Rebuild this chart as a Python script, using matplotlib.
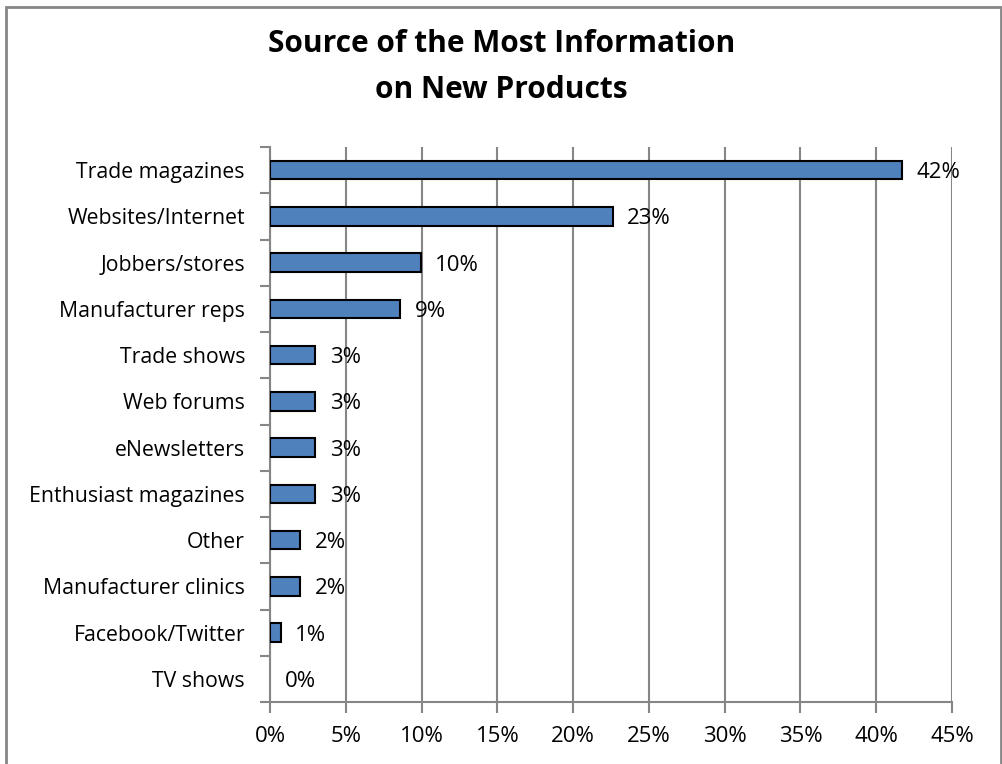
import matplotlib
matplotlib.use("Agg")
import matplotlib.pyplot as plt
from matplotlib.patches import Rectangle
from matplotlib.ticker import MultipleLocator, FuncFormatter, FixedLocator

categories = ["Trade magazines", "Websites/Internet", "Jobbers/stores",
              "Manufacturer reps", "Trade shows", "Web forums", "eNewsletters",
              "Enthusiast magazines", "Other", "Manufacturer clinics",
              "Facebook/Twitter", "TV shows"]
values = [41.7, 22.6, 9.95, 8.6, 3.0, 3.0, 3.0, 3.0, 2.0, 2.0, 0.7, 0.0]

plt.rcParams['font.family'] = ['Open Sans', 'DejaVu Sans']
fs_cat = 15.3
fs_num = 16

fig = plt.figure(figsize=(10.03, 7.64), dpi=100)
ax = fig.add_axes([270 / 1003, 1 - 702 / 764, (952 - 270) / 1003, (702 - 147) / 764])

grid_col = "#868686"
n = len(categories)
ypos = list(range(n - 1, -1, -1))

edges = ["black" if v > 0 else "none" for v in values]
ax.barh(ypos, values, height=0.4, color="#4F81BD", edgecolor=edges,
        linewidth=1.5, zorder=3)
for y, v in zip(ypos, values):
    ax.annotate(f"{v:.0f}%", (v, y), xytext=(10.5, 0), textcoords="offset points",
                va="center_baseline", ha="left", fontsize=fs_num, zorder=4)

ax.set_xlim(0, 45)
ax.set_ylim(-0.5, n - 0.5)
ax.xaxis.set_major_locator(MultipleLocator(5))
ax.xaxis.set_major_formatter(FuncFormatter(lambda x, p: f"{x:.0f}%"))
ax.grid(axis="x", color=grid_col, linewidth=1.5, zorder=0)

ax.set_yticks(ypos)
ax.set_yticklabels(categories)
ax.yaxis.set_minor_locator(FixedLocator([i - 0.5 for i in range(n + 1)]))
ax.tick_params(axis="y", which="major", length=0, pad=18, labelsize=fs_cat)
ax.tick_params(axis="y", which="minor", length=7, width=1.5, color=grid_col)
ax.tick_params(axis="x", length=8, width=1.5, color=grid_col, pad=9,
               labelsize=fs_num)

for s in ["top", "right"]:
    ax.spines[s].set_visible(False)
for s in ["left", "bottom"]:
    ax.spines[s].set_color(grid_col)
    ax.spines[s].set_linewidth(1.5)

title_lines = ["Source of the Most Information", "on New Products"]
for line, base in zip(title_lines, [52, 98]):
    fig.text(0.5, 1 - base / 764, line, ha="center", va="baseline",
             fontsize=21.5, fontweight="bold")

fig.patches.append(Rectangle((6 / 1003, -0.01), (1001 - 6) / 1003, 1 - 7 / 764 + 0.01,
                             transform=fig.transFigure, fill=False,
                             edgecolor=grid_col, linewidth=2))

fig.savefig("out.png", dpi=100)
